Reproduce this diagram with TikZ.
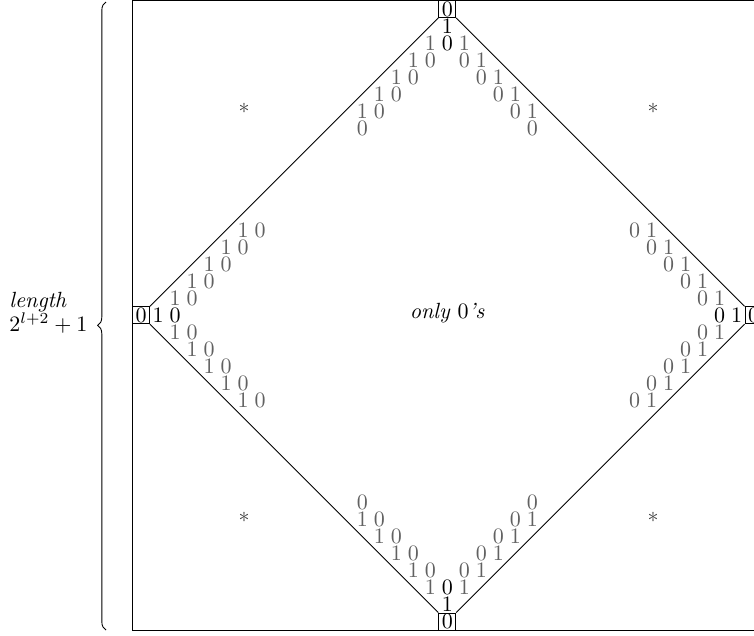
\documentclass[tikz,border=0pt]{standalone}
\usetikzlibrary{decorations.pathreplacing}
\begin{document}
\begin{tikzpicture}[x=0.4545pt,y=-0.4545pt,
  vbox/.style={draw, minimum size=7.73pt, inner sep=0pt},
  dig/.style={inner sep=0pt, text=black!62},
  bdig/.style={inner sep=0pt},
  star/.style={inner sep=0pt, text=black!75}]
\useasboundingbox (0,0) rectangle (754,635);
% vertex boxes
\node[vbox] (T) at (447.25,9) {0};
\node[vbox] (L) at (141,315.25) {0};
\node[vbox] (R) at (753.5,315.25) {0};
\node[vbox] (B) at (447.25,621.5) {0};
% frame
\draw (L.west |- T.north) rectangle (R.east |- B.south);
% diamond
\draw (T.south west) -- (L.north east);
\draw (T.south east) -- (R.north west);
\draw (B.north west) -- (L.south east);
\draw (B.north east) -- (R.south west);
% black digits next to boxes
\node[bdig] (t1) at ([shift={(0,17)}]T) {1};
\node[bdig] (t0) at ([shift={(0,34)}]T) {0};
\node[bdig] (l1) at ([shift={(17,0)}]L) {1};
\node[bdig] (l0) at ([shift={(34,0)}]L) {0};
\node[bdig] (r1) at ([shift={(-17,0)}]R) {1};
\node[bdig] (r0) at ([shift={(-34,0)}]R) {0};
\node[bdig] (b1) at ([shift={(0,-17)}]B) {1};
\node[bdig] (b0) at ([shift={(0,-34)}]B) {0};
% gray digits
\foreach \k in {1,...,5}{
  \foreach \sg/\nm in {-1/a,1/b}{
    \node[dig] (ta\nm\k) at ([shift={(\sg*17*\k,17*\k+17)}]T) {1};
    \node[dig] (tb\nm\k) at ([shift={(\sg*17*\k,17*\k+34)}]T) {0};
    \node[dig] (la\nm\k) at ([shift={(17*\k+17,\sg*17*\k)}]L) {1};
    \node[dig] (lb\nm\k) at ([shift={(17*\k+34,\sg*17*\k)}]L) {0};
    \node[dig] (ra\nm\k) at ([shift={(-17*\k-17,\sg*17*\k)}]R) {1};
    \node[dig] (rb\nm\k) at ([shift={(-17*\k-34,\sg*17*\k)}]R) {0};
    \node[dig] (ba\nm\k) at ([shift={(\sg*17*\k,-17*\k-17)}]B) {1};
    \node[dig] (bb\nm\k) at ([shift={(\sg*17*\k,-17*\k-34)}]B) {0};
  }
}
% stars
\node[star] (s1) at (244,108) {$*$};
\node[star] (s2) at (653,108) {$*$};
\node[star] (s3) at (244,517) {$*$};
\node[star] (s4) at (653,517) {$*$};
% centre text
\node (c) at (447.25,313) {\textit{only $0$'s}};
% left label and brace
\node[align=left, anchor=west, inner sep=0pt] (len) at (9,313) {\textit{length}\\[-1pt]$2^{l+2}+1$};
\coordinate (bbot) at (106,630);
\coordinate (btop) at (106,2);
\draw[decorate, decoration={brace, amplitude=3.8pt, aspect=0.485}] (bbot) -- (btop);
\end{tikzpicture}
\end{document}
